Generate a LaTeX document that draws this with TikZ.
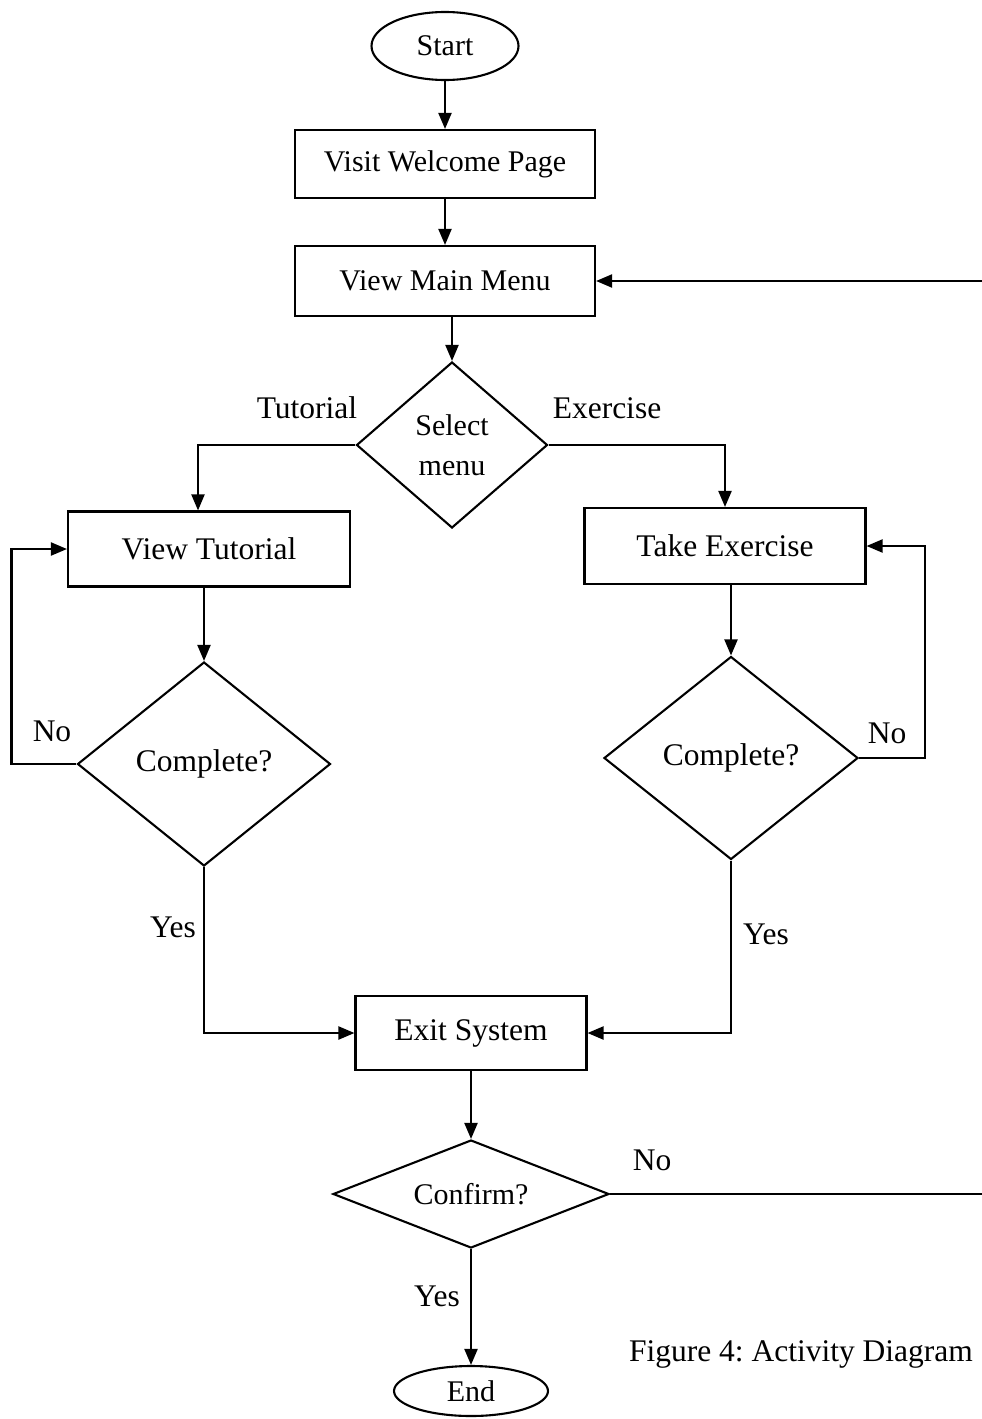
\documentclass[tikz,border=0pt]{standalone}
\usepackage{fontspec}
\setmainfont{Liberation Serif}
\usetikzlibrary{shapes.geometric,arrows.meta}
\frenchspacing

\begin{document}
\begin{tikzpicture}[x=1pt, y=-1pt, line width=2.1pt,
        every node/.style={font=\fontsize{31.5}{40}\selectfont},
        smalltext/.style={font=\fontsize{30}{40}\selectfont},
        box/.style={draw, rectangle, inner sep=0pt},
        decision/.style={draw, diamond, inner sep=0pt, align=center},
        terminal/.style={draw, ellipse, inner sep=0pt},
        flow/.style={-{Triangle[length=16pt,width=13pt]}}]
        \useasboundingbox (0,0) rectangle (982,1419);

        % Main column
        \node[terminal, smalltext, minimum width=147pt, minimum height=68pt] (start) at (445,46) {Start};
        \node[box, smalltext, minimum width=300pt, minimum height=68pt] (welcome) at (445,164) {Visit Welcome Page};
        \node[box, smalltext, minimum width=300pt, minimum height=70pt] (mainmenu) at (445,281) {View Main Menu};
        \node[decision, smalltext, minimum width=191pt, minimum height=166pt, aspect=1.15] (select) at (452,445) {Select\\menu};

        % Tutorial branch
        \node[box, minimum width=282pt, minimum height=75pt] (tutorial) at (209,549) {View Tutorial};
        \node[decision, minimum width=253pt, minimum height=204pt, aspect=1.24] (donetut) at (204,764) {Complete?};

        % Exercise branch
        \node[box, minimum width=281pt, minimum height=76pt] (exercise) at (725,546) {Take Exercise};
        \node[decision, minimum width=254pt, minimum height=203pt, aspect=1.25] (doneex) at (731,758) {Complete?};

        % Exit
        \node[box, minimum width=231pt, minimum height=74pt] (exit) at (471,1033) {Exit System};
        \node[decision, smalltext, minimum width=276pt, minimum height=108pt, aspect=2.55] (confirm) at (471,1194) {Confirm?};
        \node[terminal, smalltext, minimum width=154pt, minimum height=50pt] (end) at (471,1391) {End};
        \coordinate (rim) at (982,0);

        % Connectors
        \draw[flow] (start) -- (welcome);
        \draw[flow] (welcome) -- (mainmenu);
        \draw[flow] (mainmenu.south -| select) -- (select.north);
        \draw[flow] (select.west) -| ([xshift=-11pt]tutorial.north);
        \draw[flow] (select.east) -| (exercise.north);
        \draw[flow] (tutorial.south -| donetut.north) -- (donetut.north);
        \draw[flow] (exercise.south -| doneex.north) -- (doneex.north);
        \draw[flow] (donetut.west) -- ++(-65,0) |- (tutorial.west);
        \draw[flow] (doneex.east) -- ++(66,0) |- (exercise.east);
        \draw[flow] (donetut.south) |- (exit.west);
        \draw[flow] (doneex.south) |- (exit.east);
        \draw[flow] (exit) -- (confirm);
        \draw[flow] (confirm) -- (end);
        \draw (confirm.east) -- (confirm.east -| rim);
        \draw[flow] (mainmenu.east -| rim) -- (mainmenu.east);

        % Labels
        \node (lbltutorial) at (307,408) {Tutorial};
        \node (lblexercise) at (607,408) {Exercise};
        \node (lblnotut) at (52,731) {No};
        \node (lblnoex) at (887,733) {No};
        \node (lblyestut) at (173,927) {Yes};
        \node (lblyesex) at (766,934) {Yes};
        \node (lblnoconfirm) at (652,1160) {No};
        \node (lblyesconfirm) at (437,1296) {Yes};
        \node (caption) at (801,1354) {Figure 4: Activity Diagram};
    \end{tikzpicture}
\end{document}
